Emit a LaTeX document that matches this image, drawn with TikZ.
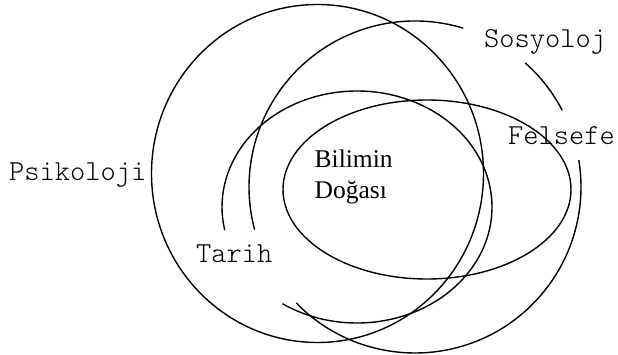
\documentclass[tikz,border=0pt]{standalone}
\usepackage{fontspec}
\setmainfont{Liberation Serif}
\tikzset{
  curve/.style={line width=1.4pt, black},
  monolbl/.style={font=\fontfamily{lmtt}\fontseries{l}\fontsize{29}{34}\selectfont, anchor=base west, inner sep=0pt},
  seriflbl/.style={font=\fontsize{25.5}{30}\selectfont, anchor=base west, inner sep=0pt}
}
\begin{document}
\begin{tikzpicture}[x=1pt,y=1pt]
\useasboundingbox (0,0) rectangle (618,354);
% Psikoloji circle
\coordinate (cA) at (317.5,180.5);
\draw[curve] (cA) ellipse [x radius=166, y radius=169];
% Bilimin Dogasi ellipse
\coordinate (cD) at (427,164.5);
\draw[curve] (cD) ellipse [x radius=144, y radius=89.5];
% Sosyoloji circle (broken)
\coordinate (cB) at (415,167);
\draw[curve] ([shift={(73.1:166)}]cB) arc[start angle=73.1, end angle=194.9, radius=166];
\draw[curve] ([shift={(27.5:166)}]cB) arc[start angle=27.5, end angle=48.4, radius=166];
\draw[curve] ([shift={(224.3:166)}]cB) arc[start angle=224.3, end angle=369.3, radius=166];
% Tarih ellipse (broken)
\coordinate (cC) at (357,147);
\draw[curve] ([shift={({135*cos(236.5)},{116*sin(236.5)})}]cC) arc[start angle=236.5, end angle=551.5, x radius=135, y radius=116];
% labels
\node[monolbl] (psi) at (9,174) {Psikoloji};
\node[monolbl] (sos) at (484,306) {Sosyoloj};
\node[monolbl] (fel) at (508,210) {Felsefe};
\node[monolbl] (tar) at (196,92) {Tarih};
\node[seriflbl] (bil1) at (314.5,187) {Bilimin};
\node[seriflbl] (bil2) at (314.5,156) {Doğası};
\end{tikzpicture}
\end{document}
